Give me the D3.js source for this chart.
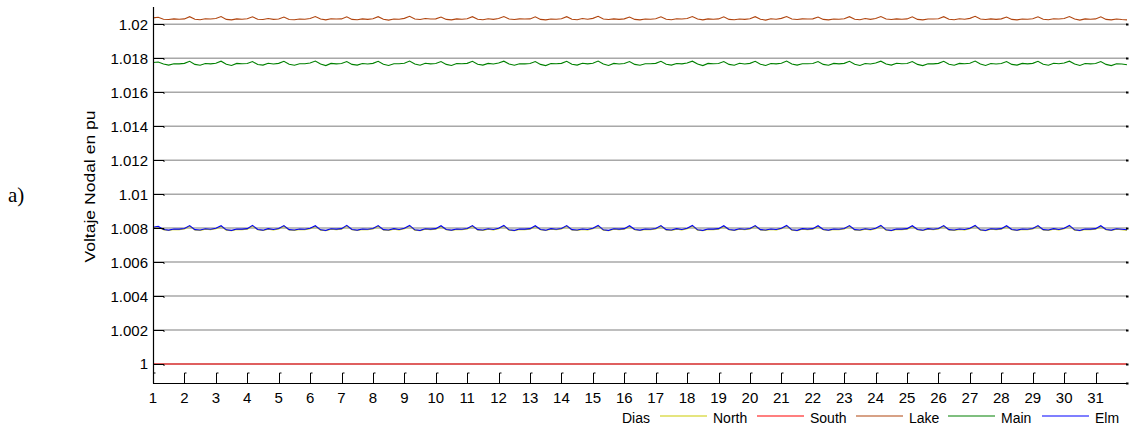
<!DOCTYPE html>
<html><head><meta charset="utf-8">
<script src="https://cdn.jsdelivr.net/npm/d3@7"></script>
<style>body{margin:0;background:#fff;} svg{display:block;} text{font-family:"Liberation Sans",Arial,sans-serif;fill:#000;}</style>
</head><body>
<svg id="c" width="1143" height="425"></svg>
<script>
// ---------- data ----------
const xTicks = [1,2,3,4,5,6,7,8,9,10,11,12,13,14,15,16,17,18,19,20,21,22,23,24,25,26,27,28,29,30,31];
const xTickLabels = xTicks.map(String);
const yTicks = [1,1.002,1.004,1.006,1.008,1.01,1.012,1.014,1.016,1.018,1.02];
const yTickLabels = ["1","1.002","1.004","1.006","1.008","1.01","1.012","1.014","1.016","1.018","1.02"];
const seriesNames = ["North","South","Lake","Main","Elm"];
const seriesColors = ["#cccc00","#ff0000","#b0450f","#008000","#0000ff"];
const samplesPerDay = 6; // one sample every 4 hours, starting at day 1
const lake = [
1.02038,1.02042,1.02030,1.02028,1.02032,1.02030, 1.02032,1.02045,1.02030,1.02027,1.02033,1.02031,
1.02034,1.02046,1.02029,1.02026,1.02032,1.02030, 1.02033,1.02044,1.02030,1.02028,1.02034,1.02029,
1.02031,1.02043,1.02028,1.02027,1.02031,1.02030, 1.02034,1.02046,1.02031,1.02026,1.02033,1.02031,
1.02032,1.02044,1.02029,1.02027,1.02032,1.02029, 1.02033,1.02045,1.02030,1.02025,1.02031,1.02030,
1.02035,1.02047,1.02031,1.02028,1.02034,1.02031, 1.02032,1.02043,1.02029,1.02026,1.02032,1.02030,
1.02033,1.02045,1.02030,1.02027,1.02033,1.02029, 1.02034,1.02046,1.02031,1.02028,1.02032,1.02031,
1.02032,1.02044,1.02029,1.02026,1.02031,1.02030, 1.02033,1.02045,1.02030,1.02027,1.02034,1.02030,
1.02035,1.02047,1.02031,1.02028,1.02032,1.02029, 1.02032,1.02043,1.02029,1.02026,1.02031,1.02030,
1.02033,1.02044,1.02030,1.02027,1.02033,1.02031, 1.02034,1.02046,1.02031,1.02026,1.02032,1.02030,
1.02032,1.02044,1.02029,1.02027,1.02031,1.02029, 1.02033,1.02045,1.02030,1.02025,1.02033,1.02030,
1.02035,1.02046,1.02031,1.02028,1.02032,1.02031, 1.02032,1.02043,1.02029,1.02026,1.02031,1.02030,
1.02033,1.02045,1.02030,1.02027,1.02034,1.02029, 1.02034,1.02046,1.02031,1.02028,1.02032,1.02030,
1.02032,1.02044,1.02029,1.02026,1.02031,1.02031, 1.02033,1.02045,1.02030,1.02027,1.02033,1.02030,
1.02035,1.02047,1.02031,1.02028,1.02032,1.02029, 1.02032,1.02043,1.02029,1.02026,1.02031,1.02030,
1.02033,1.02044,1.02030,1.02027,1.02033,1.02031, 1.02034,1.02046,1.02031,1.02025,1.02032,1.02030,
1.02032,1.02044,1.02029,1.02026,1.02031,1.02028, 1.02026];
const main = [
1.01775,1.01778,1.01766,1.01760,1.01768,1.01767, 1.01770,1.01782,1.01764,1.01759,1.01769,1.01767,
1.01771,1.01783,1.01765,1.01758,1.01770,1.01768, 1.01769,1.01781,1.01763,1.01760,1.01771,1.01766,
1.01770,1.01782,1.01765,1.01759,1.01768,1.01768, 1.01772,1.01784,1.01766,1.01757,1.01770,1.01767,
1.01769,1.01781,1.01764,1.01760,1.01769,1.01766, 1.01770,1.01782,1.01765,1.01758,1.01768,1.01768,
1.01771,1.01784,1.01766,1.01759,1.01771,1.01767, 1.01769,1.01781,1.01764,1.01758,1.01769,1.01768,
1.01770,1.01782,1.01765,1.01760,1.01770,1.01766, 1.01772,1.01783,1.01766,1.01759,1.01768,1.01767,
1.01769,1.01781,1.01764,1.01757,1.01769,1.01768, 1.01770,1.01782,1.01765,1.01760,1.01771,1.01767,
1.01771,1.01784,1.01766,1.01758,1.01770,1.01766, 1.01769,1.01781,1.01764,1.01759,1.01768,1.01768,
1.01770,1.01782,1.01765,1.01760,1.01769,1.01767, 1.01772,1.01783,1.01766,1.01757,1.01770,1.01768,
1.01769,1.01781,1.01764,1.01759,1.01771,1.01766, 1.01770,1.01782,1.01765,1.01758,1.01769,1.01767,
1.01771,1.01784,1.01766,1.01760,1.01768,1.01768, 1.01769,1.01781,1.01764,1.01759,1.01770,1.01767,
1.01770,1.01782,1.01765,1.01758,1.01769,1.01766, 1.01772,1.01783,1.01766,1.01760,1.01771,1.01768,
1.01769,1.01781,1.01764,1.01757,1.01768,1.01767, 1.01770,1.01782,1.01765,1.01759,1.01770,1.01768,
1.01771,1.01784,1.01766,1.01758,1.01769,1.01766, 1.01769,1.01781,1.01764,1.01760,1.01770,1.01767,
1.01770,1.01782,1.01765,1.01759,1.01771,1.01768, 1.01772,1.01783,1.01766,1.01758,1.01769,1.01767,
1.01769,1.01781,1.01764,1.01757,1.01768,1.01766, 1.01762];
const elm = [
1.00805,1.00810,1.00792,1.00788,1.00795,1.00794, 1.00798,1.00815,1.00791,1.00789,1.00796,1.00793,
1.00799,1.00814,1.00790,1.00787,1.00795,1.00794, 1.00797,1.00816,1.00792,1.00788,1.00797,1.00792,
1.00798,1.00815,1.00791,1.00789,1.00795,1.00793, 1.00799,1.00814,1.00790,1.00787,1.00796,1.00794,
1.00797,1.00816,1.00792,1.00788,1.00795,1.00793, 1.00798,1.00815,1.00791,1.00789,1.00797,1.00792,
1.00799,1.00816,1.00790,1.00787,1.00796,1.00794, 1.00797,1.00814,1.00792,1.00788,1.00795,1.00793,
1.00798,1.00815,1.00791,1.00789,1.00796,1.00792, 1.00799,1.00816,1.00790,1.00787,1.00795,1.00794,
1.00797,1.00814,1.00792,1.00788,1.00797,1.00793, 1.00798,1.00815,1.00791,1.00789,1.00795,1.00792,
1.00799,1.00816,1.00790,1.00787,1.00796,1.00794, 1.00797,1.00814,1.00792,1.00788,1.00795,1.00793,
1.00798,1.00815,1.00791,1.00789,1.00797,1.00792, 1.00799,1.00816,1.00790,1.00787,1.00795,1.00794,
1.00797,1.00814,1.00792,1.00788,1.00796,1.00793, 1.00798,1.00815,1.00791,1.00789,1.00795,1.00792,
1.00799,1.00816,1.00790,1.00787,1.00797,1.00794, 1.00797,1.00814,1.00792,1.00788,1.00795,1.00793,
1.00798,1.00815,1.00791,1.00789,1.00796,1.00792, 1.00799,1.00816,1.00790,1.00787,1.00795,1.00794,
1.00797,1.00814,1.00792,1.00788,1.00797,1.00793, 1.00798,1.00815,1.00791,1.00789,1.00795,1.00792,
1.00799,1.00816,1.00790,1.00787,1.00796,1.00794, 1.00797,1.00814,1.00792,1.00788,1.00795,1.00793,
1.00798,1.00815,1.00791,1.00789,1.00797,1.00792, 1.00799,1.00816,1.00790,1.00787,1.00795,1.00794,
1.00797,1.00814,1.00792,1.00788,1.00796,1.00793, 1.00790];
const north = [
1.00802,1.00807,1.00790,1.00786,1.00792,1.00791, 1.00795,1.00811,1.00789,1.00787,1.00793,1.00790,
1.00796,1.00810,1.00788,1.00785,1.00792,1.00791, 1.00794,1.00812,1.00790,1.00786,1.00794,1.00789,
1.00795,1.00811,1.00789,1.00787,1.00792,1.00790, 1.00796,1.00810,1.00788,1.00785,1.00793,1.00791,
1.00794,1.00812,1.00790,1.00786,1.00792,1.00790, 1.00795,1.00811,1.00789,1.00787,1.00794,1.00789,
1.00796,1.00812,1.00788,1.00785,1.00793,1.00791, 1.00794,1.00810,1.00790,1.00786,1.00792,1.00790,
1.00795,1.00811,1.00789,1.00787,1.00793,1.00789, 1.00796,1.00812,1.00788,1.00785,1.00792,1.00791,
1.00794,1.00810,1.00790,1.00786,1.00794,1.00790, 1.00795,1.00811,1.00789,1.00787,1.00792,1.00789,
1.00796,1.00812,1.00788,1.00785,1.00793,1.00791, 1.00794,1.00810,1.00790,1.00786,1.00792,1.00790,
1.00795,1.00811,1.00789,1.00787,1.00794,1.00789, 1.00796,1.00812,1.00788,1.00785,1.00792,1.00791,
1.00794,1.00810,1.00790,1.00786,1.00793,1.00790, 1.00795,1.00811,1.00789,1.00787,1.00792,1.00789,
1.00796,1.00812,1.00788,1.00785,1.00794,1.00791, 1.00794,1.00810,1.00790,1.00786,1.00792,1.00790,
1.00795,1.00811,1.00789,1.00787,1.00793,1.00789, 1.00796,1.00812,1.00788,1.00785,1.00792,1.00791,
1.00794,1.00810,1.00790,1.00786,1.00794,1.00790, 1.00795,1.00811,1.00789,1.00787,1.00792,1.00789,
1.00796,1.00812,1.00788,1.00785,1.00793,1.00791, 1.00794,1.00810,1.00790,1.00786,1.00792,1.00790,
1.00795,1.00811,1.00789,1.00787,1.00794,1.00789, 1.00796,1.00812,1.00788,1.00785,1.00792,1.00791,
1.00794,1.00810,1.00790,1.00786,1.00793,1.00790, 1.00788];
const southDays = [1, 32];
const south = [1.0000, 1.0000];
const xLabel = "Dias";
const yLabel = "Voltaje Nodal en pu";
const panelLabel = "a)";

// ---------- layout ----------
const L = 153, R = 1127, T = 7, B = 383;
const x = d3.scaleLinear().domain([1, 32]).range([L, R]);
const y = d3.scaleLinear().domain([0.99888, 1.02102]).range([B, T]);
const svg = d3.select("#c");

const toPts = arr => arr.map((v, i) => [1 + i / samplesPerDay, v]);
const seriesData = [
  toPts(north),
  southDays.map((d, i) => [d, south[i]]),
  toPts(lake),
  toPts(main),
  toPts(elm)
];

// grid lines
svg.append("g").selectAll("line").data(yTicks).join("line")
  .attr("x1", L).attr("x2", R)
  .attr("y1", d => y(d)).attr("y2", d => y(d))
  .attr("stroke", "#a8a8a8").attr("stroke-width", 1.5);

// series lines
const line = d3.line().x(d => x(d[0])).y(d => y(d[1]));
svg.append("g").selectAll("path").data(seriesData).join("path")
  .attr("d", line).attr("fill", "none")
  .attr("stroke", (d, i) => seriesColors[i]).attr("stroke-width", 1.1);

// axes lines
const ax = svg.append("g").attr("stroke", "#000").attr("fill", "none");
ax.append("line").attr("x1", L + 0.5).attr("x2", L + 0.5).attr("y1", T).attr("y2", B + 0.5).attr("stroke-width", 1.2);
ax.append("line").attr("x1", L).attr("x2", R + 1).attr("y1", B + 0.5).attr("y2", B + 0.5).attr("stroke-width", 1.2);

// y ticks (inward, MATLAB-like)
ax.selectAll("path.yt").data(yTicks).join("path").attr("class", "yt")
  .attr("d", d => `M${L},${Math.round(y(d)) + 0.5}H${L + 11}v1.5`).attr("stroke-width", 1);
// small marks at right end
svg.append("g").selectAll("rect").data(yTicks.concat([y.invert(B)])).join("rect")
  .attr("x", R - 1).attr("y", d => Math.round(y(d)) - 0.5).attr("width", 2.5).attr("height", 2)
  .attr("fill", "#000");

// x ticks
ax.selectAll("path.xt").data(xTicks).join("path").attr("class", "xt")
  .attr("d", d => `M${Math.round(x(d)) + 0.5},${B}V${B - 10}h2`).attr("stroke-width", 1);

// tick labels
svg.append("g").selectAll("text").data(yTicks).join("text")
  .attr("x", 148).attr("y", d => y(d) + 5.5).attr("text-anchor", "end")
  .style("font-size", "15px").text((d, i) => yTickLabels[i]);
svg.append("g").selectAll("text").data(xTicks).join("text")
  .attr("x", d => x(d)).attr("y", 403).attr("text-anchor", "middle")
  .style("font-size", "15px").text((d, i) => xTickLabels[i]);

// y label
svg.append("text").attr("transform", "translate(95,186.5) rotate(-90)")
  .attr("text-anchor", "middle").attr("textLength", 152).attr("lengthAdjust", "spacingAndGlyphs")
  .style("font-size", "14px").text(yLabel);

// panel label
svg.append("text").attr("x", 8).attr("y", 202)
  .style("font-family", "'Liberation Serif','Times New Roman',serif").style("font-size", "21px").text(panelLabel);

// legend (with x label)
svg.append("text").attr("x", 622).attr("y", 423).style("font-size", "14px").text(xLabel);
const legLines = [660, 757, 856, 948, 1042];
const lg = svg.append("g");
seriesNames.forEach((n, i) => {
  lg.append("line").attr("x1", legLines[i]).attr("x2", legLines[i] + 47)
    .attr("y1", 416).attr("y2", 416).attr("stroke", seriesColors[i]).attr("stroke-width", 1.1);
  lg.append("text").attr("x", legLines[i] + 53).attr("y", 423).style("font-size", "14px").text(n);
});
</script>
</body></html>
